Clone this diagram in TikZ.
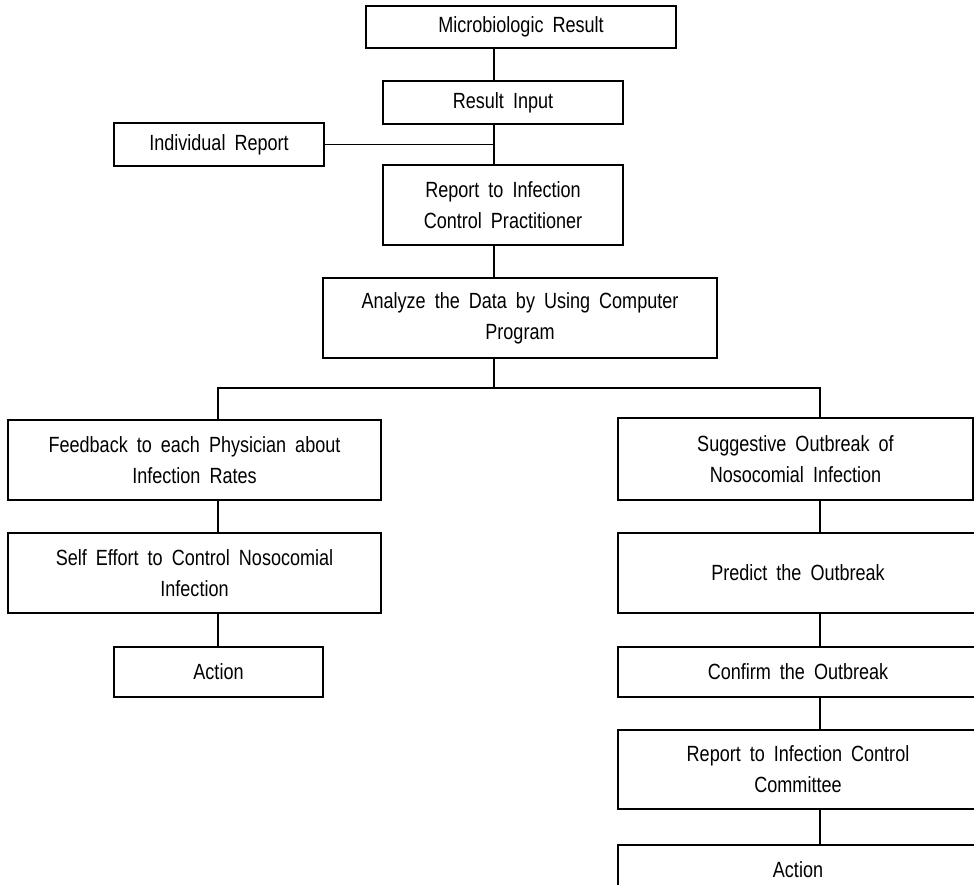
\documentclass[tikz,border=0pt]{standalone}
\usepackage{fontspec}
\setmainfont{Liberation Sans}[FakeStretch=0.82, WordSpace=1.8]
\usetikzlibrary{positioning}

\begin{document}
\begin{tikzpicture}[
  x=1pt, y=-1pt,
  box/.style={draw, line width=1.3pt, inner sep=0pt, align=center,
              font=\fontsize{22}{31}\selectfont},
  link/.style={line width=1.2pt}
]
  \useasboundingbox (0,0) rectangle (974,885);
  \clip (0,0) rectangle (974,885);
  % centre column
  \node[box, minimum width=310pt, minimum height=42pt] (micro)    at (521,27)    {Microbiologic Result};
  \node[box, minimum width=240pt, minimum height=43pt] (input)    at (503,102.5) {Result Input};
  \node[box, minimum width=210pt, minimum height=43pt] (indiv)    at (219,144.5) {Individual Report};
  \node[box, minimum width=240pt, minimum height=80pt] (reportcp) at (503,205)   {Report to Infection\\Control Practitioner};
  \node[box, minimum width=394pt, minimum height=80pt] (analyze)  at (520,318)   {Analyze the Data by Using Computer\\Program};
  % left branch
  \node[box, minimum width=373pt, minimum height=80pt] (feedback) at (194.5,460) {Feedback to each Physician about\\Infection Rates};
  \node[box, minimum width=373pt, minimum height=80pt] (selfeff)  at (194.5,573) {Self Effort to Control Nosocomial\\Infection};
  \node[box, minimum width=209pt, minimum height=50pt] (actleft)  at (218.5,672) {Action};
  % right branch
  \node[box, minimum width=355pt, minimum height=82pt] (suggest)  at (795.5,459) {Suggestive Outbreak of\\Nosocomial Infection};
  \node[box, minimum width=360pt, minimum height=80pt] (predict)  at (798,573)   {Predict the Outbreak};
  \node[box, minimum width=360pt, minimum height=50pt] (confirm)  at (798,672)   {Confirm the Outbreak};
  \node[box, minimum width=360pt, minimum height=79pt] (reportcc) at (798,769.5) {Report to Infection Control\\Committee};
  \node[box, minimum width=360pt, minimum height=50pt] (actright) at (798,870)   {Action};
  % connectors
  \coordinate (spine) at (494,0);
  \coordinate (lcol)  at (218,0);
  \coordinate (rcol)  at (820,0);
  \coordinate (split) at (494,388);
  \draw[link] (micro.south -| spine) -- (input.north -| spine);
  \draw[link] (input.south -| spine) -- (reportcp.north -| spine);
  \draw[link] (indiv.east) -- (indiv.east -| spine);
  \draw[link] (reportcp.south -| spine) -- (analyze.north -| spine);
  \draw[link] (analyze.south -| spine) -- (split);
  \draw[link] (feedback.north -| lcol) |- (split) -| (suggest.north -| rcol);
  \draw[link] (feedback.south -| lcol) -- (selfeff.north -| lcol);
  \draw[link] (selfeff.south -| lcol) -- (actleft.north -| lcol);
  \draw[link] (suggest.south -| rcol) -- (predict.north -| rcol);
  \draw[link] (predict.south -| rcol) -- (confirm.north -| rcol);
  \draw[link] (confirm.south -| rcol) -- (reportcc.north -| rcol);
  \draw[link] (reportcc.south -| rcol) -- (actright.north -| rcol);
\end{tikzpicture}
\end{document}
